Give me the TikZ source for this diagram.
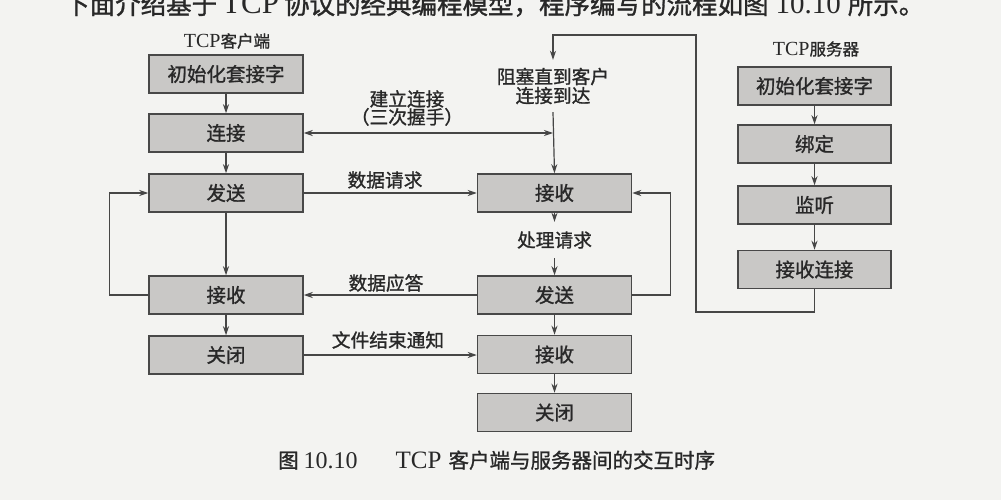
\documentclass[tikz,border=0pt]{standalone}
\usepackage{fontspec}
\setmainfont{Liberation Serif}
\newfontfamily\cjk[FakeBold=1.2]{Noto Sans CJK SC}
\usetikzlibrary{arrows.meta}
\definecolor{bgc}{RGB}{243,243,241}
\definecolor{boxfill}{RGB}{201,200,198}
\definecolor{boxline}{RGB}{72,72,72}
\definecolor{linec}{RGB}{70,70,70}
\definecolor{txtc}{RGB}{40,40,40}
\newcommand\bxf{\fontsize{19.5}{19}\selectfont\cjk}
\newcommand\lblf{\fontsize{18.7}{19}\selectfont\cjk}
\tikzset{
  box/.style={draw=boxline, fill=boxfill, line width=1.5pt, minimum width=154pt,
    minimum height=38pt, inner sep=0pt, font=\bxf, text=txtc},
  rbox/.style={box, minimum width=153pt},
  lbl/.style={inner sep=0pt, font=\lblf, text=txtc, align=center},
  conn/.style={draw=linec, line width=1.2pt, -{Stealth[length=9pt,width=6pt]}},
  bconn/.style={draw=linec, line width=1.2pt, {Stealth[length=9pt,width=6pt]}-{Stealth[length=9pt,width=6pt]}}
}
\begin{document}
\begin{tikzpicture}[x=1pt,y=-1pt]
\useasboundingbox (0,0) rectangle (1001,500);
\clip (0,0) rectangle (1001,500);
\fill[bgc] (0,0) rectangle (1001,500);

% top text line (cut at top)
\node[anchor=base west, inner sep=0pt, text=txtc] (top) at (64,14)
  {\fontsize{25.5}{26}\selectfont\cjk 下面介绍基于\hspace{5pt}{\rmfamily\fontsize{31}{30}\selectfont TCP}\hspace{5pt}协议的经典编程模型，程序编写的流程如图\hspace{7pt}{\rmfamily\fontsize{29}{30}\selectfont 10.10}\hspace{7pt}所示。};

% titles
\node[lbl] (tcpc) at (227,41) {{\rmfamily\fontsize{20}{20}\selectfont TCP}{\fontsize{16.5}{17}\selectfont 客户端}};
\node[lbl] (tcps) at (816,49) {{\rmfamily\fontsize{20}{20}\selectfont TCP}{\fontsize{16.5}{17}\selectfont 服务器}};

% client column
\node[box] (c1) at (226,74) {初始化套接字};
\node[box] (c2) at (226,133) {连接};
\node[box] (c3) at (226,193) {发送};
\node[box] (c4) at (226,295) {接收};
\node[box] (c5) at (226,355) {关闭};

% server middle column
\node[box] (s1) at (554.5,193) {接收};
\node[box] (s2) at (554.5,295) {发送};
\node[box] (s3) at (554.5,354.5) {接收};
\node[box] (s4) at (554.5,412.5) {关闭};

% server right column
\node[rbox] (r1) at (814.5,86) {初始化套接字};
\node[rbox] (r2) at (814.5,144) {绑定};
\node[rbox] (r3) at (814.5,205) {监听};
\node[rbox] (r4) at (814.5,269.5) {接收连接};

% texts between
\node[lbl, minimum height=52pt, font=\fontsize{18.7}{19}\selectfont\cjk] (blk) at (553,86) {阻塞直到客户\\连接到达};
\node[lbl, minimum height=36pt] (proc) at (554.5,240) {处理请求};
\node[lbl, font=\fontsize{18.7}{18}\selectfont\cjk] (l1) at (407,108) {建立连接\\（三次握手）};
\node[lbl] (l2) at (385,180) {数据请求};
\node[lbl] (l3) at (386,283) {数据应答};
\node[lbl] (l4) at (388,340) {文件结束通知};

% coordinates of the big loop
\coordinate (lb) at (696,312);
\coordinate (lt) at (696,35);

% client flow
\draw[conn] (c1) -- (c2);
\draw[conn] (c2) -- (c3);
\draw[conn] (c3) -- (c4);
\draw[conn] (c4) -- (c5);
\draw[conn] (c4.west) -- ++(-39,0) |- (c3.west);

% right column flow
\draw[conn] (r1) -- (r2);
\draw[conn] (r2) -- (r3);
\draw[conn] (r3) -- (r4);
\draw[conn] (r4.south) |- (lb) -- (lt) -| (blk.north);

% server middle flow
\draw[conn] (blk.south) -- (s1.north);
\draw[conn] (s1.south) -- (proc.north);
\draw[conn] (proc.south) -- (s2.north);
\draw[conn] (s2) -- (s3);
\draw[conn] (s3) -- (s4);
\draw[conn] (s2.east) -- ++(38,0) |- (s1.east);

% interactions
\draw[bconn] (c2.east) -- (c2.east -| blk.south);
\draw[conn] (c3.east) -- (s1.west);
\draw[conn] (s2.west) -- (c4.east);
\draw[conn] (c5.east) -- (s3.west |- c5.east);

% caption
\node[anchor=base west, inner sep=0pt, text=txtc] (cap) at (278,468)
  {\fontsize{20.5}{20}\selectfont\cjk 图\hspace{5pt}{\rmfamily\fontsize{24}{24}\selectfont 10.10}\hspace{38pt}{\rmfamily\fontsize{25}{24}\selectfont TCP}\hspace{7pt}客户端与服务器间的交互时序};
\end{tikzpicture}
\end{document}
